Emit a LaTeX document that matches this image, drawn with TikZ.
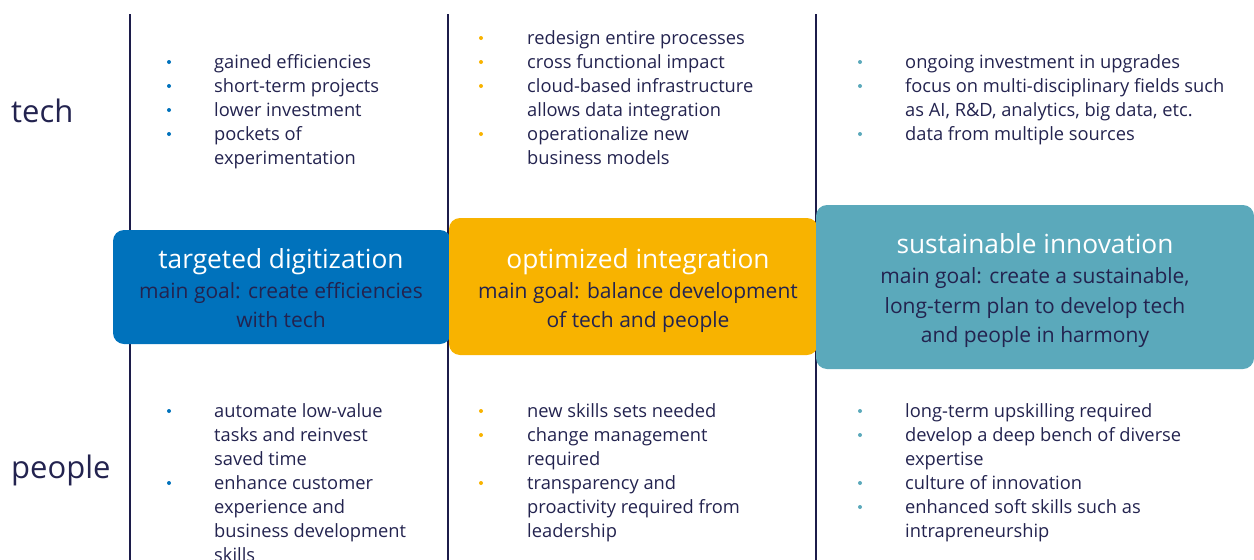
\documentclass[tikz,border=0pt]{standalone}
\usepackage{fontspec}
\setmainfont{Open Sans}
\begin{document}
\definecolor{navy}{HTML}{23234F}
\definecolor{rule}{HTML}{1C1C4A}
\definecolor{cblue}{HTML}{0072BC}
\definecolor{cyellow}{HTML}{F8B300}
\definecolor{cteal}{HTML}{5BA9BB}
\begin{tikzpicture}[x=1pt,y=-1pt,
  item/.style={anchor=base west,inner sep=0pt,text=navy,font=\fontsize{18.3}{24}\selectfont},
  dot/.style={circle,inner sep=0pt,minimum size=4pt},
  rowlabel/.style={anchor=base west,inner sep=0pt,text=navy,font=\fontsize{31}{36}\selectfont},
  stage/.style={rounded corners=11pt},
  stagetitle/.style={anchor=base,inner sep=0pt,text=white,font=\fontsize{26.3}{30}\selectfont},
  stagegoal/.style={anchor=base,inner sep=0pt,text=navy,font=\fontsize{21}{24}\selectfont}]
\useasboundingbox (0,0) rectangle (1254,560);

% column rules
\foreach \x [count=\i] in {130,448,816}
  \draw[rule,line width=1.5pt] (\x,14) -- (\x,560) coordinate (r\i);

% row labels
\node[rowlabel] (tech) at (11,122) {tech};
\node[rowlabel] (people) at (11,478) {people};

% stage boxes
\fill[stage,cblue] (113,230) rectangle (451,344);
\fill[stage,cyellow] (449,218) rectangle (818,355);
\fill[stage,cteal] (816,205) rectangle (1254,369);

\node[stagetitle] (s1) at (281,268) {targeted digitization};
\node[stagegoal] (g1a) at (281,298) {main goal: create efficiencies};
\node[stagegoal] (g1b) at (281,327) {with tech};

\node[stagetitle] (s2) at (638,268) {optimized integration};
\node[stagegoal] (g2a) at (638,298) {main goal: balance development};
\node[stagegoal] (g2b) at (638,327) {of tech and people};

\node[stagetitle] (s3) at (1035,253) {sustainable innovation};
\node[stagegoal] (g3a) at (1035,283) {main goal: create a sustainable,};
\node[stagegoal] (g3b) at (1035,313) {long-term plan to develop tech};
\node[stagegoal] (g3c) at (1035,342) {and people in harmony};

% bullet lists: flag/text, flag 1 starts a new bullet
\foreach \b/\t [count=\i] in {1/gained efficiencies,1/short-term projects,1/lower investment,1/pockets of,0/experimentation}{
  \node[item] (a\i) at (214,68+24*\i-24) {\t};
  \ifnum\b=1 \node[dot,fill=cblue] (ad\i) at (169,62+24*\i-24) {}; \fi}
\foreach \b/\t [count=\i] in {1/redesign entire processes,1/cross functional impact,1/cloud-based infrastructure,0/allows data integration,1/operationalize new,0/business models}{
  \node[item] (b\i) at (527,44+24*\i-24) {\t};
  \ifnum\b=1 \node[dot,fill=cyellow] (bd\i) at (481,38+24*\i-24) {}; \fi}
\foreach \b/\t [count=\i] in {1/ongoing investment in upgrades,1/focus on multi-disciplinary fields such,0/{as AI, R\&D, analytics, big data, etc.},1/data from multiple sources}{
  \node[item] (c\i) at (905,68+24*\i-24) {\t};
  \ifnum\b=1 \node[dot,fill=cteal] (cd\i) at (860,62+24*\i-24) {}; \fi}

\foreach \b/\t [count=\i] in {1/automate low-value,0/tasks and reinvest,0/saved time,1/enhance customer,0/experience and,0/business development,0/skills}{
  \node[item] (d\i) at (214,417+24*\i-24) {\t};
  \ifnum\b=1 \node[dot,fill=cblue] (dd\i) at (169,411+24*\i-24) {}; \fi}
\foreach \b/\t [count=\i] in {1/new skills sets needed,1/change management,0/required,1/transparency and,0/proactivity required from,0/leadership}{
  \node[item] (e\i) at (527,417+24*\i-24) {\t};
  \ifnum\b=1 \node[dot,fill=cyellow] (ed\i) at (481,411+24*\i-24) {}; \fi}
\foreach \b/\t [count=\i] in {1/long-term upskilling required,1/develop a deep bench of diverse,0/expertise,1/culture of innovation,1/enhanced soft skills such as,0/intrapreneurship}{
  \node[item] (f\i) at (905,417+24*\i-24) {\t};
  \ifnum\b=1 \node[dot,fill=cteal] (fd\i) at (860,411+24*\i-24) {}; \fi}
\end{tikzpicture}
\end{document}
